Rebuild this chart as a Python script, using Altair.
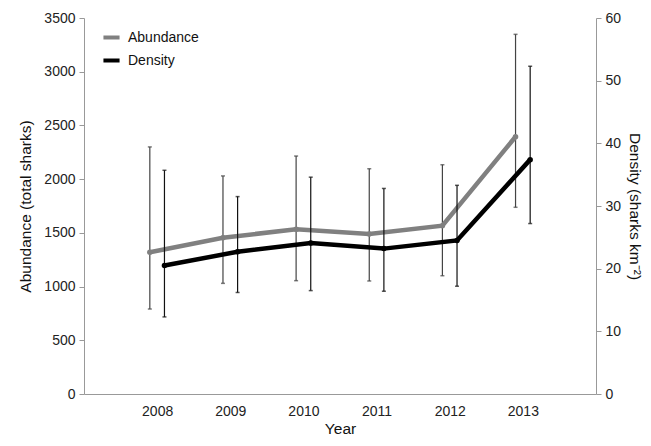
import altair as alt
import pandas as pd

years = [2008, 2009, 2010, 2011, 2012, 2013]
abundance = [1320, 1455, 1533, 1489, 1567, 2395]
abundance_low = [791, 1030, 1055, 1052, 1101, 1738]
abundance_high = [2300, 2030, 2215, 2097, 2134, 3348]
density = [20.5, 22.7, 24.1, 23.2, 24.5, 37.4]
density_low = [12.3, 16.2, 16.5, 16.4, 17.2, 27.2]
density_high = [35.7, 31.5, 34.6, 32.8, 33.3, 52.3]
series_names = ["Abundance", "Density"]

ab_df = pd.DataFrame({"year": years, "val": abundance, "lo": abundance_low,
                      "hi": abundance_high, "series": series_names[0]})
de_df = pd.DataFrame({"year": years, "val": density, "lo": density_low,
                      "hi": density_high, "series": series_names[1]})

FONT = "Liberation Sans"
color = alt.Color("series:N", scale=alt.Scale(domain=series_names, range=["#808080", "#000000"]),
                  legend=alt.Legend(title=None, orient="none", legendX=17, legendY=9,
                                    symbolType="stroke", symbolStrokeWidth=4, symbolSize=260,
                                    labelFontSize=14, labelFont=FONT, labelColor="#111",
                                    labelOffset=6, rowPadding=4, padding=0))

xenc = alt.X("xpos:Q", scale=alt.Scale(domain=[2007, 2014], nice=False, zero=False),
             axis=alt.Axis(title="Year", values=years, format="d", ticks=False,
                           labelPadding=10, titlePadding=3, grid=False))


def make_layer(df, ydomain, yvalues, title, orient, offset, err_color, tpad):
    base = alt.Chart(df).transform_calculate(xpos=f"datum.year + ({offset})")
    axis = alt.Axis(title=title, orient=orient, values=yvalues, grid=False, tickSize=5,
                    labelPadding=4, titlePadding=tpad, format="d")
    y = alt.Y("val:Q", scale=alt.Scale(domain=ydomain, nice=False), axis=axis)
    ylo = alt.Y("lo:Q", scale=alt.Scale(domain=ydomain, nice=False), axis=axis)
    yhi = alt.Y("hi:Q", scale=alt.Scale(domain=ydomain, nice=False), axis=axis)
    rules = base.mark_rule(color=err_color, strokeWidth=1.2).encode(x=xenc, y=ylo, y2="hi:Q")
    cap_lo = base.mark_tick(color=err_color, thickness=1.5, size=4, orient="horizontal").encode(x=xenc, y=ylo)
    cap_hi = base.mark_tick(color=err_color, thickness=1.5, size=4, orient="horizontal").encode(x=xenc, y=yhi)
    line = base.mark_line(strokeWidth=4.5).encode(x=xenc, y=y, color=color)
    pts = base.mark_circle(size=30, opacity=1).encode(x=xenc, y=y, color=color)
    return alt.layer(rules, cap_lo, cap_hi, line, pts)


ab_layer = make_layer(ab_df, [0, 3500], list(range(0, 3501, 500)),
                      "Abundance (total sharks)", "left", -0.1, "#444444", 10)
de_layer = make_layer(de_df, [0, 60], list(range(0, 61, 10)),
                      "Density (sharks km⁻²)", "right", 0.1, "#111111", 6)

chart = alt.layer(ab_layer, de_layer).resolve_scale(y="independent").properties(
    width=512, height=376,
    background="white",
    autosize=alt.AutoSizeParams(type="none"),
    padding={"left": 76, "top": 10, "right": 47, "bottom": 44},
).configure_view(stroke=None).configure_axis(
    domainColor="#999999", tickColor="#999999", labelColor="#222222", titleColor="#111111",
    labelFont=FONT, titleFont=FONT, labelFontSize=14, titleFontSize=15.5,
    titleFontWeight="normal",
)

chart.save("out.html", embed_options={"renderer": "svg", "actions": False})
